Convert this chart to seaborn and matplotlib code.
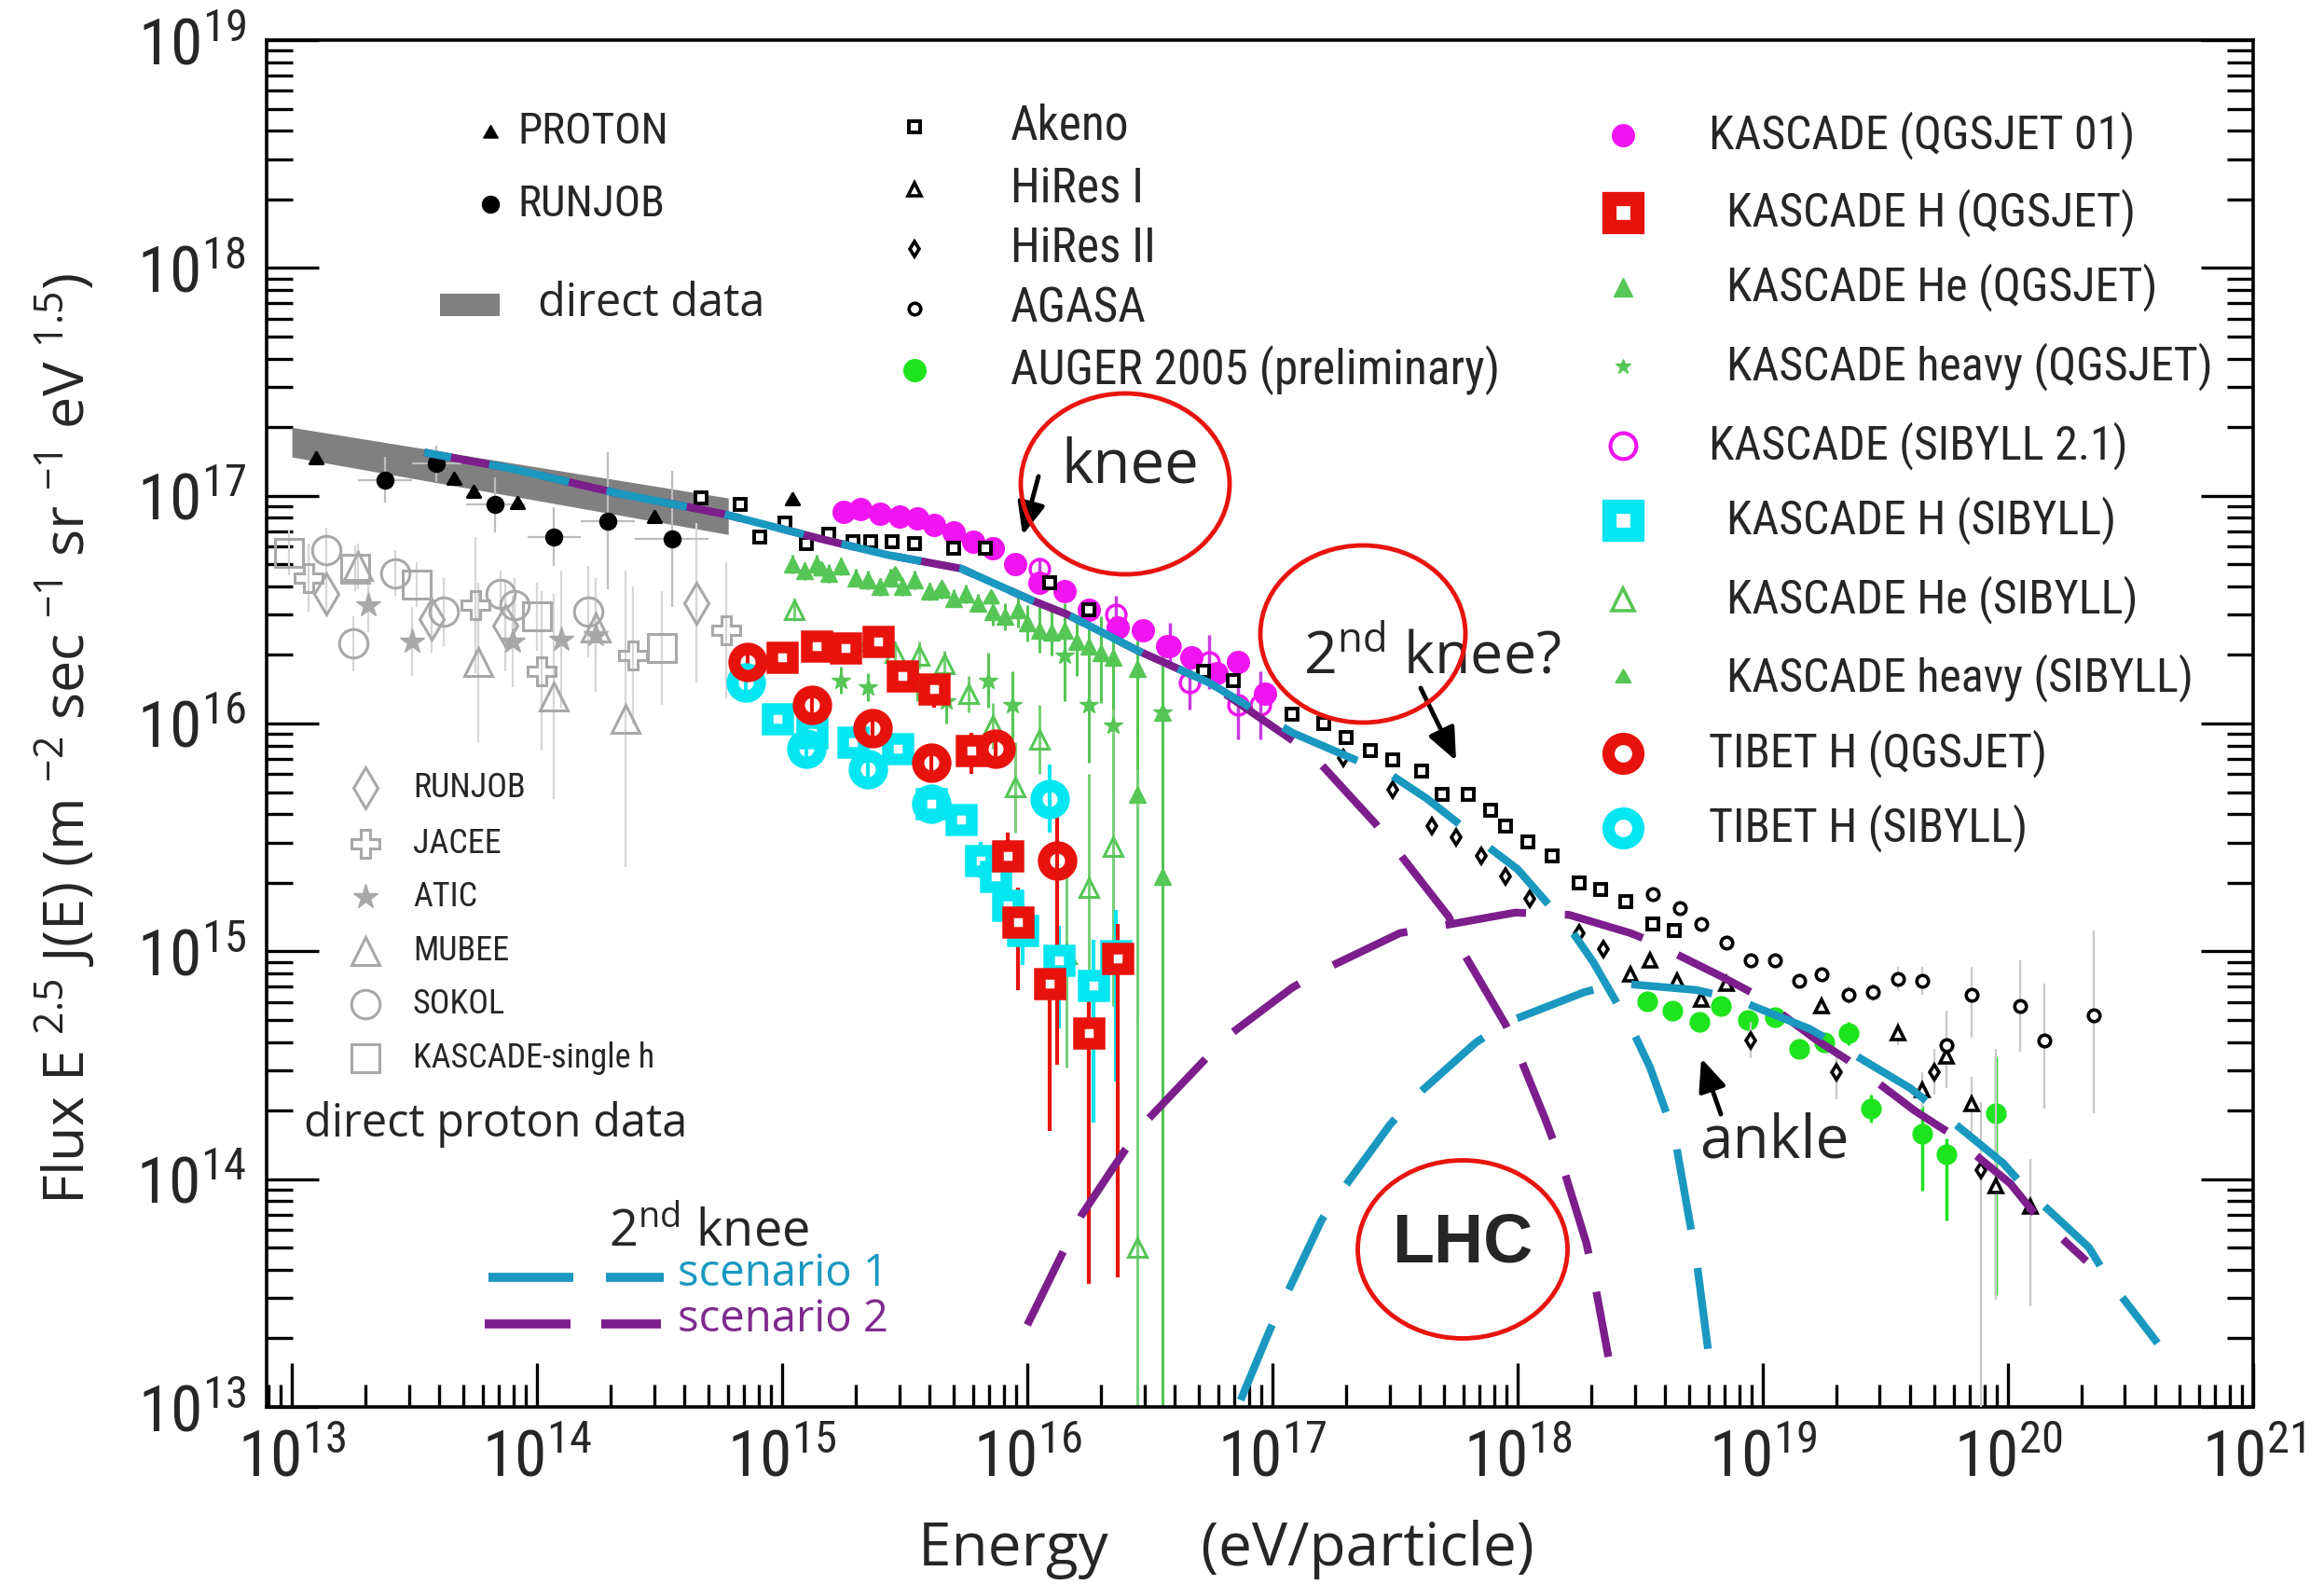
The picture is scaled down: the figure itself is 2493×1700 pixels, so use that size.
import numpy as np
import matplotlib
matplotlib.use("Agg")
import matplotlib.pyplot as plt
import matplotlib.ticker as mticker
from matplotlib import font_manager as fm
from matplotlib.patches import Ellipse, Rectangle
from matplotlib.lines import Line2D
import pandas as pd
import seaborn as sns

sns.set_style("ticks")
plt.rcParams['font.family'] = ['Open Sans', 'DejaVu Sans']
plt.rcParams['mathtext.default'] = 'regular'

# ---------- pick a condensed font if one is installed ----------
def find_condensed():
    prefer = ['Liberation Sans Narrow', 'Roboto Condensed', 'Open Sans Condensed',
              'Noto Sans Condensed', 'DejaVu Sans Condensed', 'Arial Narrow']
    lst = fm.fontManager.ttflist
    for name in prefer:
        for f in lst:
            if f.name == name and f.style == 'normal' and f.weight in (400, 'normal', 'regular'):
                return f.fname
    for f in lst:
        if f.name in ('DejaVu Sans', 'Noto Sans', 'Open Sans', 'Roboto', 'Liberation Sans') \
                and f.stretch in ('condensed', 'semi-condensed') and f.style == 'normal' \
                and f.weight in (400, 'normal', 'regular'):
            return f.fname
    return None

_cond = find_condensed()
if _cond is not None:
    _NFP = fm.FontProperties(fname=_cond)
    NSCALE = 1.0
else:
    _NFP = fm.FontProperties(family=['Liberation Sans', 'DejaVu Sans'])
    NSCALE = 0.80

def NFP(size):
    fp = _NFP.copy()
    fp.set_size(size * NSCALE)
    return fp

# ---------------- data (log10 E [eV], log10 flux) ----------------
band_lgE = [13.00, 14.78]
band_top = [17.30, 16.99]
band_bot = [17.17, 16.83]

# model curves
s1_gal_lgE = [13.54, 13.89, 14.33, 14.76, 15.16, 15.43, 15.73, 16.02, 16.16, 16.45, 16.74, 17.08,
              17.49, 17.63, 17.89, 18.00, 18.22, 18.31, 18.47, 18.54, 18.64, 18.73, 18.79]
s1_gal_lgF = [17.19, 17.12, 17.01, 16.92, 16.81, 16.74, 16.68, 16.54, 16.48, 16.32, 16.18, 15.96,
              15.77, 15.67, 15.45, 15.36, 15.09, 14.95, 14.65, 14.49, 14.19, 13.64, 13.14]
s2_gal_lgE = [13.54, 13.89, 14.33, 14.76, 15.16, 15.43, 15.73, 16.02, 16.16, 16.45, 16.74, 17.09,
              17.19, 17.42, 17.51, 17.72, 17.77, 17.95, 18.00, 18.11, 18.18, 18.28, 18.31, 18.37]
s2_gal_lgF = [17.19, 17.12, 17.01, 16.92, 16.81, 16.74, 16.68, 16.54, 16.48, 16.32, 16.18, 15.92,
              15.83, 15.56, 15.44, 15.15, 15.01, 14.68, 14.56, 14.27, 14.07, 13.72, 13.57, 13.22]
s1_eg_lgE = [16.87, 16.99, 17.06, 17.20, 17.29, 17.48, 17.58, 17.83, 17.96, 18.27, 18.41, 18.73,
             18.89, 19.19, 19.32, 19.60, 19.73, 19.98, 20.08, 20.33, 20.41, 20.61]
s1_eg_lgF = [13.03, 13.34, 13.50, 13.82, 13.96, 14.24, 14.36, 14.60, 14.69, 14.82, 14.86, 14.83,
             14.79, 14.66, 14.58, 14.40, 14.29, 14.07, 13.95, 13.70, 13.56, 13.28]
s2_eg_lgE = [16.00, 16.15, 16.22, 16.40, 16.49, 16.72, 16.82, 17.08, 17.21, 17.52, 17.68, 17.99,
             18.21, 18.46, 18.53, 18.83, 18.97, 19.22, 19.35, 19.62, 19.75, 20.01, 20.10, 20.32]
s2_eg_lgF = [13.36, 13.69, 13.84, 14.13, 14.26, 14.52, 14.63, 14.84, 14.92, 15.08, 15.11, 15.17,
             15.16, 15.08, 15.05, 14.89, 14.81, 14.61, 14.52, 14.30, 14.21, 13.98, 13.86, 13.64]

# black direct data
proton_lgE = [13.10, 13.59, 13.66, 13.74, 13.92, 14.48, 15.04]
proton_lgF = [17.16, 17.14, 17.07, 17.01, 16.96, 16.90, 16.98]
runjob_lgE = [13.38, 13.59, 13.83, 14.07, 14.29, 14.55]
runjob_lgF = [17.07, 17.14, 16.96, 16.82, 16.89, 16.81]
runjob_dF = [0.10, 0.08, 0.12, 0.13, 0.30, 0.30]
runjob_dE = [0.11, 0.10, 0.12, 0.11, 0.11, 0.15]

# air shower data
akeno_lgE = [14.67, 14.83, 14.91, 15.01, 15.10, 15.19, 15.29, 15.36, 15.45, 15.54, 15.70, 15.83,
             16.09, 16.25, 16.72, 16.84, 17.08, 17.21, 17.30, 17.40, 17.49, 17.61, 17.69, 17.80,
             17.89, 17.95, 18.04, 18.14, 18.25, 18.34, 18.44, 18.55, 18.64]
akeno_lgF = [16.99, 16.96, 16.82, 16.88, 16.79, 16.83, 16.80, 16.80, 16.80, 16.79, 16.77, 16.77,
             16.62, 16.50, 16.23, 16.19, 16.04, 16.00, 15.94, 15.88, 15.84, 15.79, 15.69, 15.69,
             15.62, 15.55, 15.48, 15.42, 15.30, 15.27, 15.22, 15.12, 15.09]
hires1_lgE = [18.46, 18.54, 18.65, 18.75, 18.85, 19.24, 19.55, 19.65, 19.75, 19.85, 19.95, 20.09]
hires1_lgF = [14.90, 14.96, 14.87, 14.79, 14.86, 14.76, 14.64, 14.39, 14.54, 14.33, 13.97, 13.88]
hires1_lo = [0.02, 0.02, 0.02, 0.02, 0.02, 0.03, 0.05, 0.08, 0.10, 0.15, 0.50, 0.44]
hires1_hi = [0.02, 0.02, 0.02, 0.02, 0.02, 0.03, 0.05, 0.08, 0.10, 0.12, 0.60, 0.21]
hires2_lgE = [17.29, 17.49, 17.65, 17.75, 17.85, 17.95, 18.05, 18.25, 18.35, 18.95, 19.30, 19.70, 19.89]
hires2_lgF = [15.85, 15.71, 15.55, 15.50, 15.42, 15.33, 15.23, 15.08, 15.01, 14.61, 14.47, 14.47, 14.04]
hires2_lo = [0.02, 0.02, 0.02, 0.02, 0.02, 0.02, 0.02, 0.02, 0.02, 0.08, 0.12, 0.10, 1.20]
hires2_hi = [0.02, 0.02, 0.02, 0.02, 0.02, 0.02, 0.02, 0.02, 0.02, 0.08, 0.10, 0.10, 0.30]
agasa_lgE = [18.55, 18.66, 18.75, 18.85, 18.95, 19.05, 19.15, 19.24, 19.35, 19.45, 19.55, 19.65,
             19.75, 19.85, 20.05, 20.15, 20.35]
agasa_lgF = [15.25, 15.19, 15.12, 15.04, 14.96, 14.96, 14.87, 14.90, 14.81, 14.82, 14.88, 14.87,
             14.59, 14.81, 14.76, 14.61, 14.72]
agasa_lo = [0.02, 0.02, 0.02, 0.02, 0.02, 0.03, 0.03, 0.03, 0.04, 0.04, 0.05, 0.06,
            0.19, 0.19, 0.20, 0.30, 0.43]
agasa_hi = [0.02, 0.02, 0.02, 0.02, 0.02, 0.03, 0.03, 0.03, 0.04, 0.04, 0.05, 0.06,
            0.15, 0.12, 0.20, 0.25, 0.37]
auger_lgE = [18.53, 18.63, 18.74, 18.83, 18.94, 19.05, 19.15, 19.25, 19.35, 19.44, 19.65, 19.75, 19.95]
auger_lgF = [14.78, 14.74, 14.69, 14.76, 14.70, 14.71, 14.57, 14.60, 14.64, 14.31, 14.20, 14.11, 14.29]
auger_lo = [0.02, 0.02, 0.02, 0.02, 0.02, 0.03, 0.03, 0.04, 0.05, 0.06, 0.25, 0.29, 0.80]
auger_hi = [0.02, 0.02, 0.02, 0.02, 0.02, 0.03, 0.03, 0.04, 0.05, 0.06, 0.12, 0.07, 0.25]

# KASCADE / TIBET
kq_lgE = [15.25, 15.32, 15.40, 15.48, 15.55, 15.62, 15.70, 15.78, 15.86, 15.95, 16.05, 16.15,
          16.25, 16.37, 16.47, 16.57, 16.67, 16.77, 16.86, 16.97]
kq_lgF = [16.93, 16.94, 16.92, 16.91, 16.90, 16.87, 16.84, 16.80, 16.77, 16.70, 16.62, 16.58,
          16.50, 16.42, 16.41, 16.34, 16.29, 16.22, 16.27, 16.13]
ks_lgE = [15.86, 16.05, 16.36, 16.58, 16.66, 16.74, 16.86, 16.95]
ks_lgF = [16.77, 16.68, 16.48, 16.34, 16.18, 16.27, 16.08, 16.08]
ks_err = [0.05, 0.05, 0.08, 0.10, 0.12, 0.12, 0.15, 0.15]
khq_lgE = [15.00, 15.14, 15.26, 15.39, 15.49, 15.62, 15.77, 15.92, 15.96, 16.09, 16.25, 16.37]
khq_lgF = [16.29, 16.34, 16.33, 16.36, 16.21, 16.15, 15.88, 15.42, 15.13, 14.86, 14.64, 14.97]
khq_lo = [0.06, 0.06, 0.06, 0.06, 0.06, 0.08, 0.10, 0.25, 0.30, 0.65, 1.10, 1.40]
khq_hi = [0.05, 0.05, 0.05, 0.05, 0.05, 0.06, 0.08, 0.10, 0.15, 0.15, 0.20, 0.15]
khs_lgE = [14.98, 15.12, 15.29, 15.47, 15.61, 15.73, 15.81, 15.87, 15.92, 15.98, 16.13, 16.27, 16.36]
khs_lgF = [16.02, 15.96, 15.92, 15.89, 15.65, 15.58, 15.40, 15.33, 15.20, 15.09, 14.96, 14.85, 14.98]
khs_lo = [0.05, 0.05, 0.05, 0.05, 0.06, 0.06, 0.08, 0.10, 0.12, 0.15, 0.30, 0.60, 0.55]
khs_hi = [0.05, 0.05, 0.05, 0.05, 0.06, 0.06, 0.08, 0.10, 0.12, 0.12, 0.15, 0.20, 0.20]
kheq_lgE = [15.04, 15.09, 15.14, 15.19, 15.24, 15.30, 15.35, 15.40, 15.44, 15.49, 15.54, 15.60,
            15.65, 15.70, 15.75, 15.80, 15.86, 15.91, 15.96, 16.00, 16.05, 16.10, 16.15, 16.20,
            16.25, 16.30, 16.35, 16.45, 16.55, 16.45, 16.55]
kheq_lgF = [16.70, 16.67, 16.70, 16.66, 16.69, 16.64, 16.63, 16.60, 16.64, 16.60, 16.63, 16.58,
            16.59, 16.55, 16.57, 16.53, 16.49, 16.47, 16.50, 16.44, 16.41, 16.40, 16.41, 16.36,
            16.34, 16.31, 16.29, 16.24, 16.05, 15.69, 15.33]
kheq_lo = [0.04] * 16 + [0.06, 0.06, 0.08, 0.08, 0.10, 0.10, 0.12, 0.15,
                         0.20, 0.22, 0.25, 0.30, 0.35, 1.00, 2.50]
kheq_hi = [0.04] * 16 + [0.06, 0.06, 0.08, 0.08, 0.10, 0.10, 0.12, 0.12,
                         0.15, 0.16, 0.18, 0.20, 0.25, 0.30, 0.60]
khvq_lgE = [15.24, 15.35, 15.55, 15.67, 15.84, 15.94, 16.15, 16.25, 16.35, 16.55]
khvq_lgF = [16.19, 16.16, 16.18, 16.10, 16.19, 16.08, 16.30, 16.08, 15.99, 16.05]
khvq_err = [0.06, 0.06, 0.08, 0.10, 0.12, 0.15, 0.20, 0.25, 0.30, 0.30]
khes_lgE = [15.05, 15.24, 15.35, 15.46, 15.56, 15.66, 15.76, 15.86, 16.05, 15.95, 16.16, 16.25,
            16.35, 16.45]
khes_lgF = [16.50, 16.34, 16.36, 16.31, 16.30, 16.26, 16.13, 15.99, 15.93, 15.72, 14.99, 15.28,
            15.46, 13.70]
khes_lo = [0.05, 0.05, 0.05, 0.05, 0.06, 0.06, 0.08, 0.10, 0.15, 0.20, 0.50, 0.60, 0.70, 0.90]
khes_hi = [0.05, 0.05, 0.05, 0.05, 0.06, 0.06, 0.08, 0.10, 0.15, 0.20, 0.40, 0.50, 0.60, 2.10]
khvs_lgE = [15.16, 15.35, 15.46, 15.65, 15.85]
khvs_lgF = [16.67, 16.62, 16.65, 16.59, 16.55]
tq_lgE = [14.86, 15.12, 15.37, 15.61, 15.87, 16.12]
tq_lgF = [16.27, 16.08, 15.98, 15.83, 15.89, 15.40]
tq_lo = [0.04, 0.04, 0.05, 0.06, 0.08, 0.90]
tq_hi = [0.04, 0.04, 0.05, 0.06, 0.08, 0.20]
ts_lgE = [14.85, 15.10, 15.35, 15.61, 16.09]
ts_lgF = [16.18, 15.89, 15.80, 15.65, 15.67]
ts_err = [0.04, 0.05, 0.06, 0.08, 0.15]

# grey direct proton data
g_runjob_lgE = [13.14, 13.57, 13.87, 14.65]
g_runjob_lgF = [16.57, 16.46, 16.43, 16.53]
g_runjob_err = [0.10, 0.15, 0.20, 0.35]
g_jacee_lgE = [13.07, 13.75, 14.02, 14.39, 14.77]
g_jacee_lgF = [16.64, 16.52, 16.23, 16.30, 16.41]
g_jacee_err = [0.15, 0.30, 0.35, 0.30, 0.30]
g_atic_lgE = [13.31, 13.49, 13.90, 14.10, 14.24]
g_atic_lgF = [16.52, 16.36, 16.36, 16.37, 16.39]
g_atic_err = [0.12, 0.15, 0.20, 0.30, 0.25]
g_mubee_lgE = [13.27, 13.76, 14.07, 14.36, 14.24]
g_mubee_lgF = [16.69, 16.27, 16.12, 16.02, 16.42]
g_mubee_err = [0.10, 0.35, 0.45, 0.65, 0.15]
g_sokol_lgE = [13.14, 13.25, 13.42, 13.62, 13.85, 13.91, 14.21]
g_sokol_lgF = [16.76, 16.35, 16.66, 16.49, 16.57, 16.52, 16.49]
g_sokol_err = [0.10, 0.12, 0.10, 0.15, 0.10, 0.12, 0.20]
g_ksh_lgE = [12.99, 13.26, 13.51, 14.00, 14.51]
g_ksh_lgF = [16.75, 16.68, 16.61, 16.47, 16.33]
g_ksh_err = [0.10, 0.10, 0.10, 0.15, 0.25]

x_ticks = [13, 14, 15, 16, 17, 18, 19, 20, 21]
y_ticks = [13, 14, 15, 16, 17, 18, 19]

top_left_labels = ["PROTON", "RUNJOB"]
mid_labels = ["Akeno", "HiRes I", "HiRes II", "AGASA", "AUGER 2005 (preliminary)"]
right_labels = ["KASCADE (QGSJET 01)", "KASCADE H (QGSJET)", "KASCADE He (QGSJET)",
                "KASCADE heavy (QGSJET)", "KASCADE (SIBYLL 2.1)", "KASCADE H (SIBYLL)",
                "KASCADE He (SIBYLL)", "KASCADE heavy (SIBYLL)", "TIBET H (QGSJET)",
                "TIBET H (SIBYLL)"]
grey_labels = ["RUNJOB", "JACEE", "ATIC", "MUBEE", "SOKOL", "KASCADE-single h"]

# ---------------- styles ----------------
CYAN_L = '#1a98c0'
PURP_L = '#7c1e8c'
MAG = '#f014f0'
RED = '#e8120c'
CYN = '#06e6f0'
KGR = '#56c656'
AGR = '#1ee41e'
GRY = '#a8a8a8'
GERR = '#d6d6d6'
STAR3 = (3, 1, 0)

W, H = 2493, 1700
fig = plt.figure(figsize=(W / 100, H / 100), dpi=100)
ax = fig.add_axes([286 / W, 1 - 1509 / H, (2417 - 286) / W, (1509 - 43) / H])
ax.set_xscale('log')
ax.set_yscale('log')

def P(a):
    return 10 ** np.asarray(a, dtype=float)

# band
ax.fill_between(P(band_lgE), P(band_bot), P(band_top), color='#808080', lw=0, zorder=1)

# curves
def curve(lgE, lgF, color, offset, z):
    df = pd.DataFrame({'E': P(lgE), 'F': P(lgF)})
    sns.lineplot(data=df, x='E', y='F', ax=ax, color=color, lw=6, sort=False, estimator=None,
                 linestyle=(offset, (10.5, 5)), zorder=z)

curve(s2_gal_lgE, s2_gal_lgF, PURP_L, 0, 6)
curve(s2_eg_lgE, s2_eg_lgF, PURP_L, 0, 6)
curve(s1_gal_lgE, s1_gal_lgF, CYAN_L, 7, 6.5)
curve(s1_eg_lgE, s1_eg_lgF, CYAN_L, 0, 6.5)

def pts(lgE, lgF, marker, ms, mfc, mec, mew=2.0, lo=None, hi=None, dE=None,
        ecolor=GERR, elw=1.6, z=3):
    E = P(lgE)
    F = P(lgF)
    if lo is not None:
        lo = np.asarray(lo, float)
        hi = np.asarray(hi if hi is not None else lo, float)
        yerr = [F - F * 10 ** (-lo), F * 10 ** hi - F]
        xerr = None
        if dE is not None:
            d = np.asarray(dE, float)
            xerr = [E - E * 10 ** (-d), E * 10 ** d - E]
        ax.errorbar(E, F, yerr=yerr, xerr=xerr, fmt='none', ecolor=ecolor,
                    elinewidth=elw, capsize=0, zorder=z - 0.5)
    ax.plot(E, F, ls='none', marker=marker, ms=ms, mfc=mfc, mec=mec, mew=mew, zorder=z)

# grey direct proton data
pts(g_ksh_lgE, g_ksh_lgF, 's', 22, 'none', GRY, 2.2, g_ksh_err, z=2)
pts(g_sokol_lgE, g_sokol_lgF, 'o', 22, 'none', GRY, 2.2, g_sokol_err, z=2)
pts(g_jacee_lgE, g_jacee_lgF, 'P', 21, 'none', GRY, 2.2, g_jacee_err, z=2)
pts(g_mubee_lgE, g_mubee_lgF, '^', 22, 'none', GRY, 2.2, g_mubee_err, z=2)
pts(g_atic_lgE, g_atic_lgF, '*', 20, GRY, GRY, 1.0, g_atic_err, z=2)
pts(g_runjob_lgE, g_runjob_lgF, 'd', 22, 'none', GRY, 2.2, g_runjob_err, z=2)

# black direct data
pts(runjob_lgE, runjob_lgF, 'o', 13, 'black', 'black', 1, runjob_dF, dE=runjob_dE, ecolor='#bdbdbd', z=4)
pts(proton_lgE, proton_lgF, STAR3, 13, 'black', 'black', 1.5, z=4)

# KASCADE / TIBET
pts(kheq_lgE, kheq_lgF, '^', 13, KGR, KGR, 1, kheq_lo, kheq_hi, ecolor=KGR, elw=2.2, z=3)
pts(khvq_lgE, khvq_lgF, '*', 15, KGR, KGR, 1, khvq_err, ecolor=KGR, elw=2.2, z=3)
pts(khvs_lgE, khvs_lgF, STAR3, 14, KGR, KGR, 1.5, z=3)
pts(khes_lgE, khes_lgF, '^', 15, 'none', KGR, 2.2, khes_lo, khes_hi, ecolor='#78d078', elw=2.2, z=3)
pts(khs_lgE, khs_lgF, 's', 15.5, 'white', CYN, 9, khs_lo, khs_hi, ecolor=CYN, elw=3, z=3.2)
pts(khq_lgE, khq_lgF, 's', 15.5, 'white', RED, 9, khq_lo, khq_hi, ecolor=RED, elw=3, z=3.3)
pts(ts_lgE, ts_lgF, 'o', 21, 'none', CYN, 9.5, ts_err, ecolor=CYN, elw=3, z=3.4)
pts(tq_lgE, tq_lgF, 'o', 21, 'none', RED, 9.5, tq_lo, tq_hi, ecolor=RED, elw=3, z=3.5)
pts(kq_lgE, kq_lgF, 'o', 17, MAG, MAG, 1, z=3.6)
pts(ks_lgE, ks_lgF, 'o', 15, 'none', MAG, 2.5, ks_err, ecolor='#c83ce0', elw=2.5, z=3.6)

# air shower data
pts(akeno_lgE, akeno_lgF, 's', 9, 'white', 'black', 2.8, z=4)
pts(hires2_lgE, hires2_lgF, 'd', 8, 'white', 'black', 2.6, hires2_lo, hires2_hi, ecolor='#c8c8c8', z=4)
pts(hires1_lgE, hires1_lgF, '^', 9.5, 'white', 'black', 2.6, hires1_lo, hires1_hi, ecolor='#c8c8c8', z=4)
pts(agasa_lgE, agasa_lgF, 'o', 9, 'white', 'black', 2.6, agasa_lo, agasa_hi, ecolor='#c8c8c8', z=4)
pts(auger_lgE, auger_lgF, 'o', 15, AGR, AGR, 1, auger_lo, auger_hi, ecolor=AGR, elw=2.5, z=3)

# axes
ax.set_xlim(10 ** 12.897, 10 ** 21.0)
ax.set_ylim(1e13, 1e19)
ax.xaxis.set_major_locator(mticker.FixedLocator(P(x_ticks)))
ax.yaxis.set_major_locator(mticker.FixedLocator(P(y_ticks)))
ax.xaxis.set_minor_locator(mticker.LogLocator(base=10, subs=np.arange(2, 10), numticks=100))
ax.yaxis.set_minor_locator(mticker.LogLocator(base=10, subs=np.arange(2, 10), numticks=100))
fmt = mticker.FuncFormatter(lambda v, p: r'$10^{%d}$' % int(round(np.log10(v))))
ax.xaxis.set_major_formatter(fmt)
ax.yaxis.set_major_formatter(fmt)
ax.tick_params(which='both', direction='in', top=False, right=True, labelright=False,
               width=2.4, color='black')
ax.tick_params(axis='y', which='major', length=40, pad=16)
ax.tick_params(axis='y', which='minor', length=20)
ax.tick_params(axis='x', which='major', length=34, pad=16)
ax.tick_params(axis='x', which='minor', length=17)
TICK_SIZE = 50 if _cond is not None else 46
for lbl in ax.get_xticklabels() + ax.get_yticklabels():
    fp = _NFP.copy()
    fp.set_size(TICK_SIZE)
    lbl.set_fontproperties(fp)
for s in ax.spines.values():
    s.set_linewidth(2.6)
    s.set_color('black')
ax.set_xlabel('')
ax.set_ylabel('')

# ---------------- annotations (figure pixel coordinates) ----------------
def fx(x):
    return x / W

def fy(y):
    return 1 - y / H

def fmark(x, y, **kw):
    fig.add_artist(Line2D([fx(x)], [fy(y)], transform=fig.transFigure, ls='none', **kw))

def fline(x0, x1, y, **kw):
    fig.add_artist(Line2D([fx(x0), fx(x1)], [fy(y), fy(y)], transform=fig.transFigure,
                          solid_capstyle='butt', **kw))

def ftext(x, y, s, **kw):
    kw.setdefault('va', 'center')
    kw.setdefault('ha', 'left')
    fig.text(fx(x), fy(y), s, **kw)

# top-left legend
fmark(526, 143, marker=STAR3, ms=13, mfc='black', mec='black')
fmark(526, 219, marker='o', ms=13, mfc='black', mec='black')
ftext(555, 141, top_left_labels[0], fontproperties=NFP(34))
ftext(555, 219, top_left_labels[1], fontproperties=NFP(34))
fig.add_artist(Rectangle((fx(472), fy(339)), 64 / W, 24 / H, transform=fig.transFigure,
                         color='#808080', lw=0))
ftext(577, 326, 'direct data', fontsize=35)

# middle legend
mid_y = [136, 203, 267, 331, 397]
mid_mk = [dict(marker='s', ms=9, mfc='white', mec='black', mew=2.8),
          dict(marker='^', ms=9.5, mfc='white', mec='black', mew=2.6),
          dict(marker='d', ms=8, mfc='white', mec='black', mew=2.6),
          dict(marker='o', ms=9, mfc='white', mec='black', mew=2.6),
          dict(marker='o', ms=17, mfc=AGR, mec=AGR)]
for lab, yy, mk in zip(mid_labels, mid_y, mid_mk):
    fmark(981, yy, **mk)
    ftext(1084, yy, lab, fontproperties=NFP(37))

# right legend
r_y = [145, 228, 308, 393, 478, 558, 643, 727, 808, 888]
r_x = [1833, 1852, 1852, 1852, 1833, 1852, 1852, 1852, 1833, 1833]
r_mk = [dict(marker='o', ms=17, mfc=MAG, mec=MAG),
        dict(marker='s', ms=21, mfc='white', mec=RED, mew=11),
        dict(marker='^', ms=14, mfc=KGR, mec=KGR),
        dict(marker='*', ms=12, mfc=KGR, mec=KGR),
        dict(marker='o', ms=20, mfc='none', mec=MAG, mew=3),
        dict(marker='s', ms=21, mfc='white', mec=CYN, mew=11),
        dict(marker='^', ms=17, mfc='none', mec=KGR, mew=2.6),
        dict(marker=STAR3, ms=14, mfc=KGR, mec=KGR),
        dict(marker='o', ms=23, mfc='none', mec=RED, mew=9.5),
        dict(marker='o', ms=23, mfc='none', mec=CYN, mew=9.5)]
for lab, yy, xx, mk in zip(right_labels, r_y, r_x, r_mk):
    fmark(1741, yy, **mk)
    ftext(xx, yy, lab, fontproperties=NFP(36))

# grey legend
g_y = [845, 905, 962, 1020, 1077, 1135]
g_mk = [dict(marker='d', ms=22, mfc='none', mec=GRY, mew=2.2),
        dict(marker='P', ms=21, mfc='none', mec=GRY, mew=2.2),
        dict(marker='*', ms=20, mfc=GRY, mec=GRY),
        dict(marker='^', ms=22, mfc='none', mec=GRY, mew=2.2),
        dict(marker='o', ms=22, mfc='none', mec=GRY, mew=2.2),
        dict(marker='s', ms=22, mfc='none', mec=GRY, mew=2.2)]
for lab, yy, mk in zip(grey_labels, g_y, g_mk):
    fmark(392, yy, **mk)
    ftext(443, yy, lab, fontproperties=NFP(26))
ftext(326, 1206, 'direct proton data', fontsize=35)

# scenario legend
ftext(653, 1322, r'2$^{nd}$ knee', fontsize=39)
fline(524, 615, 1370, color=CYAN_L, lw=7)
fline(650, 712, 1370, color=CYAN_L, lw=7)
fline(520, 612, 1420, color=PURP_L, lw=7)
fline(645, 709, 1420, color=PURP_L, lw=7)
ftext(727, 1366, 'scenario 1', fontsize=34, color=CYAN_L)
ftext(727, 1415, 'scenario 2', fontsize=34, color='#7e2a8e')

# labels
ftext(1138, 518, 'knee', fontsize=47, va='baseline')
ftext(1398, 722, r'2$^{nd}$ knee?', fontsize=45, va='baseline')
ftext(1823, 1241, 'ankle', fontsize=46, va='baseline')
ftext(1569, 1354, 'LHC', fontsize=53, va='baseline', ha='center', weight='bold',
      family=['Liberation Sans', 'DejaVu Sans'])

for (cx, cy, w, h) in [(1207, 519, 224, 194), (1462, 680, 220, 190), (1569, 1340, 225, 191)]:
    fig.add_artist(Ellipse((fx(cx), fy(cy)), w / W, h / H, transform=fig.transFigure,
                           fill=False, ec='#e8140f', lw=3.5, zorder=10))

for (x0, y0, x1, y1) in [(1114, 511, 1097, 574), (1524, 738, 1562, 816), (1846, 1195, 1825, 1135)]:
    ax.annotate('', xy=(fx(x1), fy(y1)), xytext=(fx(x0), fy(y0)), xycoords='figure fraction',
                textcoords='figure fraction',
                arrowprops=dict(arrowstyle='-|>,head_length=0.7,head_width=0.3', lw=3.5,
                                color='black', mutation_scale=30, shrinkA=0, shrinkB=0))

fig.text(fx(70), fy(792),
         r'Flux E $^{2.5}$ J(E) (m $^{-2}$ sec $^{-1}$ sr $^{-1}$ eV $^{1.5}$)',
         rotation=90, ha='center', va='center', fontsize=44)
fig.text(fx(1315), fy(1662), 'Energy      (eV/particle)', ha='center', va='center', fontsize=46)

fig.savefig('out.png', dpi=100, facecolor='white')
